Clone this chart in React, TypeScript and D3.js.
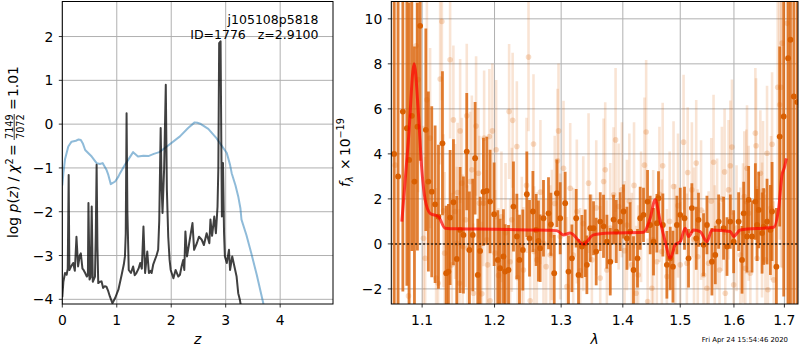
import React from 'react';
import * as d3 from 'd3';

// ---------- tick values ----------
const zTicks = [0, 1, 2, 3, 4];
const logpTicks = [-4, -3, -2, -1, 0, 1, 2];
const lamTicks = [1.1, 1.2, 1.3, 1.4, 1.5, 1.6, 1.7];
const fluxTicks = [-2, 0, 2, 4, 6, 8, 10];

// ---------- left panel: log p(z) ----------
const pzZ = [0.0, 0.02, 0.05, 0.08, 0.10, 0.117, 0.13, 0.16, 0.2, 0.23, 0.26, 0.29, 0.32, 0.34, 0.37, 0.39, 0.42, 0.45, 0.47, 0.48, 0.5, 0.52, 0.54, 0.56, 0.6, 0.615, 0.63, 0.645, 0.66, 0.69, 0.72, 0.75, 0.78, 0.81, 0.845, 0.875, 0.92, 0.97, 1.03, 1.09, 1.13, 1.15, 1.165, 1.18, 1.195, 1.22, 1.26, 1.30, 1.33, 1.36, 1.40, 1.43, 1.46, 1.49, 1.52, 1.56, 1.59, 1.62, 1.64, 1.67, 1.70, 1.73, 1.76, 1.78, 1.806, 1.825, 1.84, 1.87, 1.90, 1.92, 1.945, 1.97, 1.99, 2.04, 2.08, 2.13, 2.16, 2.19, 2.22, 2.24, 2.26, 2.29, 2.34, 2.39, 2.42, 2.47, 2.51, 2.56, 2.60, 2.65, 2.70, 2.72, 2.75, 2.79, 2.82, 2.85, 2.865, 2.88, 2.906, 2.92, 2.93, 2.95, 2.97, 2.985, 3.02, 3.06, 3.08, 3.12, 3.16, 3.20, 3.23, 3.26, 3.30];
const pzLog = [-3.95, -3.6, -3.4, -3.44, -3.3, -1.16, -3.33, -3.25, -3.17, -3.35, -2.57, -3.25, -3.0, -2.95, -3.3, -3.33, -3.4, -3.48, -3.45, -1.80, -3.55, -3.5, -1.88, -3.6, -3.48, -2.5, -0.93, -2.8, -3.63, -3.6, -3.59, -3.74, -3.7, -3.71, -3.82, -3.94, -4.09, -3.97, -3.78, -3.44, -3.2, -3.02, -2.5, 0.25, -2.0, -3.33, -3.4, -3.25, -3.45, -3.40, -3.3, -3.17, -3.3, -2.34, -3.40, -2.91, -3.40, -3.35, -3.40, -3.2, -3.10, -3.0, -2.87, -2.2, -0.09, -1.5, -2.03, -1.0, 0.90, -1.5, -2.57, -3.1, -3.33, -3.52, -3.33, -3.48, -3.44, -3.25, -3.10, -3.33, -2.45, -3.02, -2.64, -2.26, -2.87, -2.72, -2.57, -2.64, -2.76, -2.49, -2.72, -2.18, -2.55, -2.11, -2.49, -1.88, -1.0, 1.85, 1.89, -0.5, -2.11, -0.89, -2.5, -3.02, -3.17, -2.87, -3.33, -3.02, -3.25, -3.48, -3.86, -4.01, -4.3];

const priorZ = [0, 0.02, 0.05, 0.11, 0.17, 0.25, 0.30, 0.34, 0.38, 0.42, 0.54, 0.63, 0.69, 0.74, 0.81, 0.845, 0.89, 0.97, 1.03, 1.06, 1.15, 1.30, 1.39, 1.49, 1.58, 1.68, 1.78, 1.92, 2.16, 2.31, 2.43, 2.48, 2.53, 2.68, 2.83, 3.02, 3.08, 3.11, 3.18, 3.23, 3.27, 3.29, 3.38, 3.47, 3.57, 3.69, 3.8];
const priorLog = [-1.4, -1.12, -0.8, -0.51, -0.40, -0.38, -0.35, -0.36, -0.45, -0.59, -0.74, -0.89, -0.91, -0.89, -1.04, -1.16, -1.37, -1.31, -1.2, -1.12, -0.93, -0.64, -0.74, -0.72, -0.73, -0.68, -0.64, -0.51, -0.28, -0.09, 0.04, 0.03, 0.01, -0.11, -0.32, -0.66, -0.93, -1.12, -1.4, -1.65, -1.92, -2.18, -2.53, -2.95, -3.44, -4.09, -4.6];

// ---------- right panel: spectrum ----------
const modelLam = [1.0735, 1.082, 1.0895, 1.0951, 1.0996, 1.104, 1.1106, 1.1218, 1.1308, 1.147, 1.2, 1.25, 1.2933, 1.3036, 1.3142, 1.3354, 1.3516, 1.379, 1.4353, 1.4468, 1.4555, 1.4644, 1.4732, 1.4821, 1.491, 1.5, 1.509, 1.5151, 1.5242, 1.5364, 1.5489, 1.5582, 1.5929, 1.5993, 1.6122, 1.6782, 1.6883, 1.6952, 1.7, 1.704];
const modelFlux = [0.99, 4.6, 8.0, 5.8, 3.3, 1.96, 1.36, 1.21, 0.70, 0.67, 0.65, 0.62, 0.59, 0.40, 0.48, -0.01, 0.40, 0.48, 0.52, 1.14, 1.96, 0.99, 0.10, -0.64, -0.04, 0.10, 0.70, 0.33, 0.62, 0.55, 0.10, 0.62, 0.55, 0.33, 0.62, 0.74, 1.59, 3.07, 3.4, 3.8];

// [wavelength, flux, error]
const darkPoints: [number, number, number][] = [
  [1.0636, 4.0, 9], [1.0687, 3.0, 9], [1.0748, 5.88, 8], [1.0800, 5.14, 7], [1.0830, 3.73, 7],
  [1.0865, 5.69, 6], [1.0899, 2.77, 6], [1.0938, 5.21, 5.5], [1.0974, 9.69, 6], [1.1049, 5.07, 4.5],
  [1.1083, 2.77, 4], [1.1128, 2.32, 3.8], [1.1173, 1.76, 3.5], [1.1218, 1.21, 3.2], [1.1272, 4.47, 3.2],
  [1.1322, -1.30, 3], [1.1353, -1.23, 3], [1.1376, 1.17, 3], [1.1422, 1.85, 2.8], [1.1468, -0.67, 2.8],
  [1.1514, 0.62, 2.8], [1.1560, 0.40, 2.6], [1.1606, 4.10, 2.6], [1.1643, -0.27, 2.6], [1.1690, 0.40, 2.5],
  [1.1723, 3.81, 2.5], [1.1761, -1.38, 2.5], [1.1794, -0.31, 2.4], [1.1841, 2.32, 2.4], [1.1889, 2.36, 2.4],
  [1.1936, 1.88, 2.3], [1.1994, 1.32, 2.3], [1.2047, -0.71, 2.2], [1.2081, -1.08, 2.2], [1.2129, -0.56, 2.1],
  [1.2154, -1.23, 2.1], [1.2203, -1.16, 2.0], [1.2276, 1.66, 2.0], [1.2326, 0.33, 1.9], [1.2365, -0.71, 2.0],
  [1.2415, -0.27, 1.8], [1.2475, 2.21, 1.9], [1.2515, 0.25, 1.7], [1.2566, 1.44, 1.8], [1.2615, 0.62, 1.6],
  [1.2650, 0.13, 1.8], [1.2676, -0.19, 1.5], [1.2727, 1.14, 1.7], [1.2804, 1.36, 1.6], [1.2841, 0.87, 1.4],
  [1.2892, -1.30, 1.7], [1.2934, 2.25, 1.5], [1.2985, 1.14, 1.6], [1.3063, 1.81, 1.4], [1.3115, -1.23, 1.6],
  [1.3169, -0.64, 1.5], [1.3237, 1.14, 1.3], [1.3274, -1.38, 1.6], [1.3328, -0.12, 1.4], [1.3381, 0.03, 1.5],
  [1.3408, -0.93, 1.3], [1.3462, 0.70, 1.5], [1.3516, 0.70, 1.2], [1.3559, -0.34, 1.5], [1.3625, 0.99, 1.3],
  [1.3679, 0.78, 1.4], [1.3735, 0.10, 1.2], [1.3790, -0.79, 1.5], [1.3845, 1.08, 1.1], [1.3890, 0.55, 1.4],
  [1.3956, 0.99, 1.3], [1.4012, 1.44, 1.2], [1.4069, 0.25, 1.4], [1.4124, 0.55, 1.3], [1.4181, -1.16, 1.5],
  [1.4249, -0.64, 1.3], [1.4295, 1.14, 1.4], [1.4352, 1.29, 1.2], [1.4422, 1.88, 1.4], [1.4468, 0.84, 1.3],
  [1.4526, 0.10, 1.5], [1.4585, 0.92, 1.3], [1.4613, 2.03, 1.2], [1.4690, 0.84, 1.4], [1.4761, -0.93, 1.5],
  [1.4821, -0.64, 1.4], [1.4869, -1.01, 1.6], [1.4940, 0.84, 1.3], [1.5000, 1.29, 1.2], [1.5077, 1.14, 1.4],
  [1.5150, -0.64, 1.3], [1.5211, 1.59, 1.1], [1.5291, 0.25, 1.4], [1.5333, 1.07, 1.2], [1.5426, -0.04, 1.4],
  [1.5489, 0.84, 1.3], [1.5582, -0.79, 1.5], [1.5645, -0.49, 1.3], [1.5708, 0.99, 1.2], [1.5802, 0.70, 1.4],
  [1.5867, -0.12, 1.3], [1.5930, 0.99, 1.2], [1.5994, 0.10, 1.4], [1.6090, 0.99, 1.3], [1.6156, -0.71, 1.5],
  [1.6188, 1.36, 1.4], [1.6253, 0.33, 1.6], [1.6285, 1.96, 1.5], [1.6351, 0.33, 1.6], [1.6417, 1.88, 1.7],
  [1.6451, 0.84, 1.6], [1.6483, 1.51, 1.7], [1.6550, 0.48, 1.8], [1.6582, 0.77, 1.7], [1.6649, 0.99, 1.9],
  [1.6716, 0.62, 2.0], [1.6750, 1.44, 2.2], [1.6837, -1.01, 2.6], [1.6904, 4.77, 4], [1.6986, 5.66, 8],
  [1.7076, 8.25, 12], [1.7124, 9.07, 14], [1.7193, 6.55, 14], [1.7263, 6.3, 14],
];

const lightPoints: [number, number, number][] = [
  [1.0650, 3.5, 8], [1.0821, -2.31, 6], [1.0921, 8.8, 6], [1.0947, 7.3, 5], [1.1018, 0.25, 5],
  [1.1040, -0.64, 4.5], [1.1063, 6.4, 4.5], [1.1106, 4.7, 4], [1.1186, -1.52, 4], [1.1213, -1.75, 3.8],
  [1.1241, 7.33, 3.8], [1.1264, 9.88, 3.5], [1.1286, 1.47, 3.4], [1.1302, -0.41, 3.6], [1.1376, 8.18, 3.5],
  [1.1399, -0.93, 3.2], [1.1421, 5.51, 3.3], [1.1445, 1.44, 3.0], [1.1468, 0.03, 3.4], [1.1479, 2.28, 3.1],
  [1.1505, -1.75, 3.3], [1.1514, 5.02, 3.2], [1.1537, 2.70, 2.9], [1.1549, -0.12, 3.2], [1.1590, 1.07, 3.0],
  [1.1606, 5.69, 3.2], [1.1618, -0.19, 2.8], [1.1653, 2.77, 3.1], [1.1677, 3.29, 3.3], [1.1700, -2.19, 3.1],
  [1.1737, 5.24, 3.1], [1.1770, 3.14, 2.9], [1.1784, 1.81, 3.0], [1.1818, -2.22, 3.2], [1.1841, 1.81, 2.8],
  [1.1851, 4.70, 3.0], [1.1889, 0.18, 3.1], [1.1901, -0.93, 2.9], [1.1926, 4.77, 3.0], [1.1936, -2.53, 3.2],
  [1.1969, 5.02, 3.0], [1.2009, -0.41, 2.8], [1.2023, 4.18, 3.1], [1.2057, -1.40, 3.0], [1.2100, 1.2, 2.9],
  [1.2160, 0.5, 3.1], [1.2212, 5.88, 3.0], [1.2227, -0.79, 2.8], [1.2252, 1.07, 3.2], [1.2264, 5.49, 3.0],
  [1.2326, 4.33, 2.9], [1.2338, -1.50, 3.0], [1.2400, -0.12, 3.1], [1.2424, -1.16, 2.8], [1.2470, 2.6, 3.0],
  [1.2500, 8.30, 3.3], [1.2525, -2.53, 3.0], [1.2575, 4.44, 3.1], [1.2585, -0.34, 2.9], [1.2625, -0.71, 3.0],
  [1.2680, 2.3, 3.2], [1.2727, 0.03, 2.8], [1.2768, -1.01, 3.0], [1.2830, -0.49, 3.1], [1.2856, 0.40, 2.9],
  [1.2900, 1.8, 3.0], [1.2943, 3.69, 3.2], [1.2959, 5.02, 3.0], [1.2985, 0.33, 2.8], [1.3037, 3.36, 3.0],
  [1.3090, -1.9, 3.1], [1.3142, 2.47, 2.9], [1.3190, -0.5, 3.0], [1.3247, 1.44, 3.2], [1.3300, -1.2, 2.8],
  [1.3350, 0.9, 3.0], [1.3435, 2.70, 3.1], [1.3489, -0.71, 2.9], [1.3560, 1.6, 3.0], [1.3625, -1.52, 3.2],
  [1.3680, 2.77, 2.8], [1.3707, 3.29, 3.0], [1.3734, -1.16, 3.1], [1.3790, 0.7, 2.9], [1.3845, 2.18, 3.0],
  [1.3879, 4.62, 3.2], [1.3929, 1.66, 2.8], [1.3984, 2.40, 3.0], [1.4030, -0.3, 3.1], [1.4069, 0.84, 2.9],
  [1.4110, 1.9, 3.0], [1.4152, -0.93, 3.2], [1.4190, 2.6, 2.8], [1.4226, -2.19, 3.0], [1.4260, -1.38, 3.1],
  [1.4310, 1.2, 2.9], [1.4369, 3.50, 3.0], [1.4398, 4.97, 3.2], [1.4424, -2.56, 2.8], [1.4497, -1.97, 3.0],
  [1.4520, 0.18, 3.1], [1.4584, -0.79, 2.9], [1.4630, 2.2, 3.0], [1.4672, -0.34, 3.2], [1.4687, 3.47, 2.8],
  [1.4761, -1.45, 3.0], [1.4810, 1.0, 3.1], [1.4880, 2.55, 2.9], [1.4910, -0.34, 3.0], [1.4960, 1.7, 3.2],
  [1.5000, -0.93, 2.8], [1.5060, 4.52, 3.0], [1.5120, -0.86, 3.1], [1.5135, 3.17, 2.9], [1.5211, 2.40, 3.0],
  [1.5250, 0.2, 3.2], [1.5291, 3.59, 2.8], [1.5319, -0.57, 3.0], [1.5380, 1.5, 3.1], [1.5427, -1.38, 2.9],
  [1.5489, -1.97, 3.0], [1.5520, -0.86, 3.2], [1.5570, 1.9, 2.8], [1.5613, 3.63, 3.0], [1.5635, -0.49, 3.1],
  [1.5680, 0.9, 2.9], [1.5726, -1.16, 3.0], [1.5770, 2.0, 3.2], [1.5821, 3.20, 2.8], [1.5834, -2.19, 3.0],
  [1.5897, 2.40, 3.1], [1.5930, 3.47, 2.9], [1.5962, 4.30, 3.0], [1.5994, -1.82, 3.2], [1.6050, 0.7, 2.8],
  [1.6123, -0.49, 3.0], [1.6175, 0.48, 3.1], [1.6200, 2.10, 2.9], [1.6220, -1.08, 3.0], [1.6239, 1.88, 3.2],
  [1.6253, 3.36, 2.8], [1.6285, 1.36, 3.0], [1.6318, -1.30, 3.1], [1.6417, 4.92, 2.9], [1.6431, 4.36, 3.0],
  [1.6450, -0.64, 3.2], [1.6516, 3.14, 2.8], [1.6549, 0.62, 3.0], [1.6569, 2.36, 3.1], [1.6616, -0.71, 2.9],
  [1.6649, 4.03, 3.0], [1.6666, -2.04, 3.2], [1.6729, 1.59, 3.2], [1.6750, 4.43, 3.2], [1.6783, -1.60, 3.5],
  [1.6864, 6.96, 5], [1.6904, 6.18, 6], [1.6933, 6.96, 8], [1.6953, 8.92, 10], [1.7055, 9.8, 14],
];

const FONT = 'DejaVu Sans, Verdana, sans-serif';
const GRID = '#b0b0b0';
const ORANGE = '#d95f02';
const fmtTick = (v: number) => String(v).replace('-', '\u2212');

export default function App() {
  const L = { x0: 62.3, x1: 333, y0: 1.5, y1: 304 };
  const R = { x0: 391.3, x1: 798, y0: 1.5, y1: 304 };

  const xz = d3.scaleLinear().domain([0, 4.97]).range([L.x0, L.x1]);
  const yz = d3.scaleLinear().domain([-4.107, 2.8]).range([L.y1, L.y0]);
  const xl = d3.scaleLog().domain([1.06, 1.728]).range([R.x0, R.x1]);
  const yf = d3.scaleLinear().domain([-2.67, 10.77]).range([R.y1, R.y0]);

  const pzLine = d3.line<number>().x((_, i) => xz(pzZ[i])).y((d) => yz(d))(pzLog) || '';
  const priorLine = d3.line<number>().x((_, i) => xz(priorZ[i])).y((d) => yz(d))(priorLog) || '';
  const modelLine =
    d3.line<number>().x((_, i) => xl(modelLam[i])).y((d) => yf(d)).curve(d3.curveMonotoneX)(modelFlux) || '';

  const tickLen = 3.5;

  return (
    <svg
      width={800}
      height={350}
      style={{ position: 'absolute', left: 0, top: 0, background: '#fff' }}
      fontFamily={FONT}
    >
      <defs>
        <clipPath id="clipL">
          <rect x={L.x0} y={L.y0} width={L.x1 - L.x0} height={L.y1 - L.y0} />
        </clipPath>
        <clipPath id="clipR">
          <rect x={R.x0} y={R.y0} width={R.x1 - R.x0} height={R.y1 - R.y0} />
        </clipPath>
      </defs>
      <rect x={0} y={0} width={800} height={350} fill="#fff" />

      {/* ===== LEFT PANEL ===== */}
      <g>
        {zTicks.map((t) => (
          <line key={'gzx' + t} x1={xz(t)} x2={xz(t)} y1={L.y0} y2={L.y1} stroke={GRID} strokeWidth={1} />
        ))}
        {logpTicks.map((t) => (
          <line key={'gzy' + t} x1={L.x0} x2={L.x1} y1={yz(t)} y2={yz(t)} stroke={GRID} strokeWidth={1} />
        ))}
        <g clipPath="url(#clipL)">
          <path d={priorLine} fill="none" stroke="#1f77b4" strokeOpacity={0.5} strokeWidth={2} strokeLinejoin="round" />
          <path d={pzLine} fill="none" stroke="#000" strokeOpacity={0.75} strokeWidth={2} strokeLinejoin="round" />
        </g>
        <rect x={L.x0} y={L.y0} width={L.x1 - L.x0} height={L.y1 - L.y0} fill="none" stroke="#000" strokeWidth={1} />
        {zTicks.map((t) => (
          <g key={'tzx' + t}>
            <line x1={xz(t)} x2={xz(t)} y1={L.y1} y2={L.y1 + tickLen} stroke="#000" strokeWidth={0.8} />
            <text x={xz(t)} y={325} fontSize={13.9} textAnchor="middle" fill="#000">
              {fmtTick(t)}
            </text>
          </g>
        ))}
        {logpTicks.map((t) => (
          <g key={'tzy' + t}>
            <line x1={L.x0 - tickLen} x2={L.x0} y1={yz(t)} y2={yz(t)} stroke="#000" strokeWidth={0.8} />
            <text x={L.x0 - 9} y={yz(t) + 5} fontSize={13.9} textAnchor="end" fill="#000">
              {fmtTick(t)}
            </text>
          </g>
        ))}
        <text x={318.5} y={24} fontSize={12.5} textAnchor="end" fill="#000">
          j105108p5818
        </text>
        <text x={318.5} y={39} fontSize={12.5} textAnchor="end" fill="#000" style={{ whiteSpace: 'pre' }}>
          {'ID=1776   z=2.9100'}
        </text>
        <text x={(L.x0 + L.x1) / 2} y={344} fontSize={13.9} textAnchor="middle" fontStyle="italic" fill="#000">
          z
        </text>
        <g transform="translate(18,238) rotate(-90)" fill="#000">
          <text x={0} y={0} fontSize={13.9}>log</text>
          <text x={25.6} y={0} fontSize={13.9} fontStyle="italic">p</text>
          <text x={34.4} y={0} fontSize={13.9}>(</text>
          <text x={39.8} y={0} fontSize={13.9} fontStyle="italic">z</text>
          <text x={47.1} y={0} fontSize={13.9}>)</text>
          <text x={56.5} y={0} fontSize={13.9}>/</text>
          <text x={65} y={0} fontSize={13.9} fontStyle="italic">χ</text>
          <text x={73.5} y={-5.5} fontSize={9.7}>2</text>
          <text x={82} y={0} fontSize={13.9}>=</text>
          <text x={99} y={-5.5} fontSize={9.7}>7149</text>
          <line x1={98} x2={124} y1={-3.8} y2={-3.8} stroke="#000" strokeWidth={0.8} />
          <text x={99} y={6} fontSize={9.7}>7072</text>
          <text x={128} y={0} fontSize={13.9}>=</text>
          <text x={141} y={0} fontSize={13.9}>1.01</text>
        </g>
      </g>

      {/* ===== RIGHT PANEL ===== */}
      <g>
        {lamTicks.map((t) => (
          <line key={'glx' + t} x1={xl(t)} x2={xl(t)} y1={R.y0} y2={R.y1} stroke={GRID} strokeWidth={1} />
        ))}
        {fluxTicks.map((t) => (
          <line key={'gly' + t} x1={R.x0} x2={R.x1} y1={yf(t)} y2={yf(t)} stroke={GRID} strokeWidth={1} />
        ))}
        <g clipPath="url(#clipR)">
          {lightPoints.map(([l, f, e], i) => (
            <line
              key={'lb' + i}
              x1={xl(l)}
              x2={xl(l)}
              y1={yf(f - e)}
              y2={yf(f + e)}
              stroke={ORANGE}
              strokeOpacity={0.17}
              strokeWidth={2.6}
            />
          ))}
          {lightPoints.map(([l, f], i) => (
            <circle key={'lm' + i} cx={xl(l)} cy={yf(f)} r={2.8} fill={ORANGE} fillOpacity={0.22} />
          ))}
          {darkPoints.map(([l, f, e], i) => (
            <line
              key={'db' + i}
              x1={xl(l)}
              x2={xl(l)}
              y1={yf(f - e)}
              y2={yf(f + e)}
              stroke={ORANGE}
              strokeOpacity={0.8}
              strokeWidth={2.8}
            />
          ))}
          {darkPoints.map(([l, f], i) => (
            <circle key={'dm' + i} cx={xl(l)} cy={yf(f)} r={2.9} fill={ORANGE} />
          ))}
          <path d={modelLine} fill="none" stroke="#ff0000" strokeOpacity={0.7} strokeWidth={3} strokeLinejoin="round" />
          <line
            x1={R.x0}
            x2={R.x1}
            y1={yf(0)}
            y2={yf(0)}
            stroke="#000"
            strokeWidth={1.5}
            strokeDasharray="1.5,2.5"
          />
        </g>
        <rect x={R.x0} y={R.y0} width={R.x1 - R.x0} height={R.y1 - R.y0} fill="none" stroke="#000" strokeWidth={1} />
        {lamTicks.map((t) => (
          <g key={'tlx' + t}>
            <line x1={xl(t)} x2={xl(t)} y1={R.y1} y2={R.y1 + tickLen} stroke="#000" strokeWidth={0.8} />
            <text x={xl(t)} y={325} fontSize={13.9} textAnchor="middle" fill="#000">
              {t.toFixed(1)}
            </text>
          </g>
        ))}
        {fluxTicks.map((t) => (
          <g key={'tly' + t}>
            <line x1={R.x0 - tickLen} x2={R.x0} y1={yf(t)} y2={yf(t)} stroke="#000" strokeWidth={0.8} />
            <text x={R.x0 - 9} y={yf(t) + 5} fontSize={13.9} textAnchor="end" fill="#000">
              {fmtTick(t)}
            </text>
          </g>
        ))}
        <text x={(R.x0 + R.x1) / 2} y={344} fontSize={13.9} textAnchor="middle" fontStyle="italic" fill="#000">
          λ
        </text>
        <g transform="translate(350,187) rotate(-90)" fill="#000">
          <text x={0} y={0} fontSize={13.9} fontStyle="italic">f</text>
          <text x={5} y={3} fontSize={9.7} fontStyle="italic">λ</text>
          <text x={17} y={0} fontSize={13.9}>×</text>
          <text x={31} y={0} fontSize={13.9}>10</text>
          <text x={48.5} y={-6} fontSize={9.7}>{'\u221219'}</text>
        </g>
        <text x={788} y={341.5} fontSize={6.9} textAnchor="end" fill="#000">
          Fri Apr 24 15:54:46 2020
        </text>
      </g>
    </svg>
  );
}
